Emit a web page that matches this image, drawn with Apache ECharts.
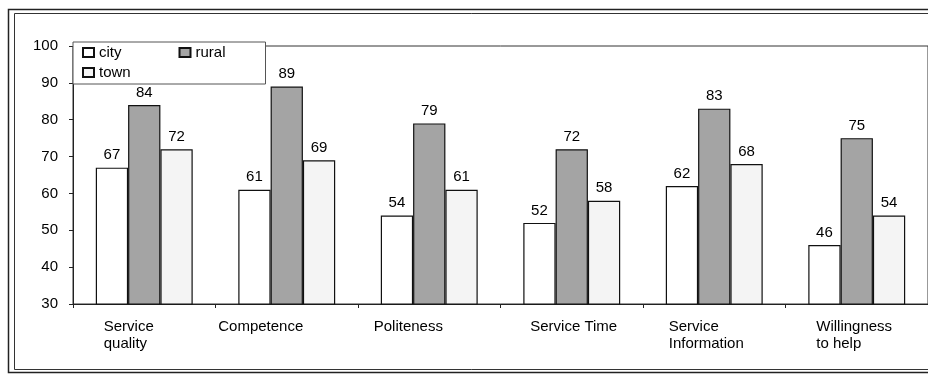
<!DOCTYPE html>
<html>
<head>
<meta charset="utf-8">
<script src="https://cdn.jsdelivr.net/npm/echarts@6/dist/echarts.min.js"></script>
<style>
  html, body { margin: 0; padding: 0; background: #fff; }
  #chart { width: 928px; height: 376px; }
</style>
</head>
<body>
<div id="chart"></div>
<script>
// Satisfaction scores by area type
const categories = ['Service\nquality', 'Competence', 'Politeness', 'Service Time', 'Service\nInformation', 'Willingness\nto help'];
const cityValues  = [67, 61, 54, 52, 62, 46];
const ruralValues = [84, 89, 79, 72, 83, 75];
const townValues  = [72, 69, 61, 58, 68, 54];
const yTicks = [30, 40, 50, 60, 70, 80, 90, 100];

// label block widths so the left-aligned text starts where each label sits
const labelWidths = [81, 137, 111, 83, 91, 81];

const FONT = 'Liberation Sans, Arial, sans-serif';
const rich = {};
labelWidths.forEach((w, i) => {
  rich['w' + i] = { width: w, align: 'left', fontSize: 15, fontFamily: FONT, color: '#000', lineHeight: 17 };
});

const valueLabel = { show: true, position: 'top', distance: 5, fontSize: 15, fontFamily: FONT, color: '#000' };
const legendText = { fontSize: 15, fontFamily: FONT, color: '#000' };

const chart = echarts.init(document.getElementById('chart'), null, { renderer: 'canvas' });
chart.setOption({
  animation: false,
  backgroundColor: '#fff',
  graphic: [
    { type: 'rect', shape: { x: 8.5, y: 9.5, width: 930, height: 363 }, style: { fill: 'none', stroke: '#222', lineWidth: 1.5 }, silent: true },
    { type: 'rect', shape: { x: 14.5, y: 13.5, width: 925, height: 356 }, style: { fill: 'none', stroke: '#333', lineWidth: 1 }, silent: true }
  ],
  grid: { left: 73, top: 46, right: -3, bottom: 72, show: true, borderColor: '#333', borderWidth: 1, backgroundColor: 'transparent' },
  legend: [
    {
      // first row plus the framed box that also holds the second row
      left: 73, top: 42,
      padding: [3, 40, 24, 9],
      itemGap: 57,
      itemWidth: 11, itemHeight: 9,
      backgroundColor: '#fff',
      borderColor: '#555', borderWidth: 1,
      icon: 'rect',
      textStyle: legendText,
      data: ['city', 'rural'],
      z: 10
    },
    {
      left: 73, top: 62,
      padding: [3, 4, 3, 9],
      itemWidth: 11, itemHeight: 9,
      icon: 'rect',
      textStyle: legendText,
      data: ['town'],
      z: 11
    }
  ],
  xAxis: {
    type: 'category',
    data: categories,
    axisLine: { lineStyle: { color: '#222', width: 1 } },
    axisTick: { show: true, length: 4, lineStyle: { color: '#222' } },
    axisLabel: {
      margin: 14,
      interval: 0,
      formatter: (v, i) => v.split('\n').map(s => '{w' + i + '|' + s + '}').join('\n'),
      rich: rich
    }
  },
  yAxis: {
    type: 'value',
    min: yTicks[0], max: yTicks[yTicks.length - 1], interval: 10,
    splitLine: { show: false },
    axisLine: { show: true, lineStyle: { color: '#222', width: 1 } },
    axisTick: { show: true, length: 4, lineStyle: { color: '#222' } },
    axisLabel: { fontSize: 15, fontFamily: FONT, color: '#000', margin: 15 }
  },
  series: [
    { name: 'city', type: 'bar', data: cityValues, barGap: '0%', barCategoryGap: '32%',
      itemStyle: { color: '#ffffff', borderColor: '#111', borderWidth: 1.2 }, label: valueLabel },
    { name: 'rural', type: 'bar', data: ruralValues, barGap: '0%', barCategoryGap: '32%',
      itemStyle: { color: '#a4a4a4', borderColor: '#111', borderWidth: 1.2 }, label: valueLabel },
    { name: 'town', type: 'bar', data: townValues, barGap: '0%', barCategoryGap: '32%',
      itemStyle: { color: '#f4f4f4', borderColor: '#111', borderWidth: 1.2 }, label: valueLabel }
  ]
});
</script>
</body>
</html>
